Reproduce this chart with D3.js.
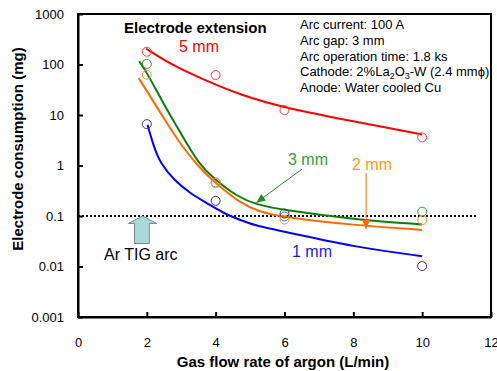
<!DOCTYPE html>
<html>
<head>
<meta charset="utf-8">
<script src="https://cdn.jsdelivr.net/npm/d3@7"></script>
<style>
  body { margin: 0; background: #fff; }
  svg { font-family: "Liberation Sans", Arial, sans-serif; }
</style>
</head>
<body>
<div id="chart-area"></div>
<script>
// measured points (gas flow, consumption mg)
var flowRates = [2, 4, 6, 10];
var mm5Points = [179, 62, 12.5, 3.6];
var mm3Points = [103, 0.46, 0.098, 0.122];
var mm2Points = [63, 0.45, 0.085, 0.083];
var mm1Points = [6.6, 0.2, 0.112, 0.0102];

// fitted curves
var mm5CurveX = [1.98, 2.78, 3.75, 4.72, 6, 8, 10];
var mm5CurveY = [205, 93, 47, 25, 13.8, 7.5, 4.1];
var mm3CurveX = [1.78, 2, 2.5, 3, 3.5, 3.94, 4.62, 5.2, 6, 8, 10];
var mm3CurveY = [116, 70, 16, 4.2, 1.1, 0.55, 0.242, 0.166, 0.13, 0.086, 0.068];
var mm2CurveX = [1.76, 2, 2.5, 3, 3.5, 3.97, 4.72, 5.25, 6, 8, 10];
var mm2CurveY = [54, 30, 8.5, 2.5, 0.95, 0.46, 0.179, 0.122, 0.094, 0.066, 0.053];
var mm1CurveX = [2.02, 2.2, 2.39, 2.78, 3.26, 3.75, 4.23, 4.72, 5.2, 6, 8, 10];
var mm1CurveY = [6.4, 2.38, 1.12, 0.52, 0.28, 0.179, 0.113, 0.083, 0.063, 0.049, 0.0245, 0.016];

var xTicks = [0, 2, 4, 6, 8, 10, 12];
var yTicks = [0.001, 0.01, 0.1, 1, 10, 100, 1000];
var yTickLabels = ["0.001", "0.01", "0.1", "1", "10", "100", "1000"];
var tigLevel = 0.1;

var W = 497, H = 371;
var margin = { left: 78, right: 6, top: 14, bottom: 54 };

var svg = d3.select("#chart-area")
    .append("svg")
    .attr("width", W)
    .attr("height", H);

var x = d3.scaleLinear().domain([0, 12]).range([margin.left, W - margin.right]);
var y = d3.scaleLog().domain([0.001, 1000]).range([H - margin.bottom, margin.top]);

// frame
svg.append("rect")
    .attr("x", x(0)).attr("y", y(1000))
    .attr("width", x(12) - x(0)).attr("height", y(0.001) - y(1000))
    .attr("fill", "none").attr("stroke", "#000").attr("stroke-width", 2);

var xAxis = svg.append("g")
    .attr("transform", "translate(0," + y(0.001) + ")")
    .call(d3.axisBottom(x).tickValues(xTicks).tickSize(-5).tickSizeOuter(0).tickPadding(21));
var yAxis = svg.append("g")
    .attr("transform", "translate(" + x(0) + ",0)")
    .call(d3.axisLeft(y).tickValues(yTicks).tickSize(-5).tickSizeOuter(0).tickPadding(14)
        .tickFormat((d, i) => yTickLabels[i]));

[xAxis, yAxis].forEach(g => {
    g.select(".domain").attr("stroke-width", 2);
    g.selectAll(".tick line").attr("stroke-width", 2);
    g.selectAll("text").attr("font-size", "13px").attr("font-family", "Liberation Sans, Arial, sans-serif").attr("fill", "#000");
});

// axis titles
svg.append("text")
    .attr("x", 283).attr("y", 367)
    .attr("text-anchor", "middle")
    .attr("font-size", "15px").attr("font-weight", "bold")
    .text("Gas flow rate of argon (L/min)");
svg.append("text")
    .attr("transform", "translate(23,149) rotate(-90)")
    .attr("text-anchor", "middle")
    .attr("font-size", "15px").attr("font-weight", "bold")
    .text("Electrode consumption (mg)");

// Ar TIG reference line
svg.append("line")
    .attr("x1", x(0)).attr("x2", x(11.6))
    .attr("y1", y(tigLevel)).attr("y2", y(tigLevel))
    .attr("stroke", "#000").attr("stroke-width", 2).attr("stroke-dasharray", "2,2");

var series = [
    { xs: mm5CurveX, ys: mm5CurveY, pts: mm5Points, line: "#ff0000", mark: "#ff3b3b" },
    { xs: mm3CurveX, ys: mm3CurveY, pts: mm3Points, line: "#0a7d0a", mark: "#2f9a2f" },
    { xs: mm2CurveX, ys: mm2CurveY, pts: mm2Points, line: "#ff6a00", mark: "#ff8a3a" },
    { xs: mm1CurveX, ys: mm1CurveY, pts: mm1Points, line: "#0000ff", mark: "#3333aa" }
];

var line = d3.line()
    .x(d => x(d[0]))
    .y(d => y(d[1]))
    .curve(d3.curveBasis);

series.forEach(s => {
    svg.append("path")
        .datum(s.xs.map((v, i) => [v, s.ys[i]]))
        .attr("d", line)
        .attr("fill", "none")
        .attr("stroke", s.line)
        .attr("stroke-width", 2);
});
series.forEach(s => {
    svg.selectAll(null)
        .data(flowRates.map((v, i) => [v, s.pts[i]]))
        .enter().append("circle")
        .attr("cx", d => x(d[0]))
        .attr("cy", d => y(d[1]))
        .attr("r", 4.5)
        .attr("fill", "none")
        .attr("stroke", s.mark)
        .attr("stroke-width", 1);
});

// labels
function label(txt, px, py, color, size, weight) {
    return svg.append("text").attr("x", px).attr("y", py)
        .attr("fill", color).attr("font-size", size).attr("font-weight", weight || "normal")
        .text(txt);
}
label("Electrode extension", 124, 33, "#000", "15px", "bold");
label("5 mm", 179, 52, "#ff0000", "16px");
label("3 mm", 288, 165, "#33a033", "16px");
label("2 mm", 352, 170, "#ff9a1a", "16px");
label("1 mm", 292, 257, "#2020e0", "16px");
label("Ar TIG arc", 104, 260, "#000", "16px");

// condition box
var cond = svg.append("text").attr("font-size", "13px").attr("fill", "#000");
cond.append("tspan").attr("x", 300).attr("y", 29).text("Arc current: 100 A");
cond.append("tspan").attr("x", 300).attr("y", 45).text("Arc gap: 3 mm");
cond.append("tspan").attr("x", 300).attr("y", 60.5).text("Arc operation time: 1.8 ks");
cond.append("tspan").attr("x", 300).attr("y", 76).text("Cathode: 2%La");
cond.append("tspan").attr("dy", 3).attr("font-size", "9px").text("2");
cond.append("tspan").attr("dy", -3).text("O");
cond.append("tspan").attr("dy", 3).attr("font-size", "9px").text("3");
cond.append("tspan").attr("dy", -3).text("-W (2.4 mm\u03d5)");
cond.append("tspan").attr("x", 300).attr("y", 91.5).text("Anode: Water cooled Cu");

// annotation arrows
function arrow(x1, y1, x2, y2, color, w) {
    var px1 = x(x1), py1 = y(y1), px2 = x(x2), py2 = y(y2);
    svg.append("line").attr("x1", px1).attr("y1", py1).attr("x2", px2).attr("y2", py2)
        .attr("stroke", color).attr("stroke-width", w);
    var a = Math.atan2(py2 - py1, px2 - px1), L = 9, hw = 4;
    var bx = px2 - L * Math.cos(a), by = py2 - L * Math.sin(a);
    svg.append("polygon")
        .attr("points", [
            [px2, py2],
            [bx + hw * Math.sin(a), by - hw * Math.cos(a)],
            [bx - hw * Math.sin(a), by + hw * Math.cos(a)]
        ].map(p => p.join(",")).join(" "))
        .attr("fill", color);
}
arrow(6.51, 0.85, 5.18, 0.184, "#1f8f1f", 1);
arrow(8.37, 0.71, 8.37, 0.055, "#ff6a00", 1);

// block arrow pointing at Ar TIG level
svg.append("polygon")
    .attr("points", "142.5,216 156.7,223.5 149.3,223.5 149.3,243.5 134.5,243.5 134.5,223.5 128.3,223.5")
    .attr("fill", "#a9d9d9").attr("stroke", "#7a8a8a").attr("stroke-width", 1);
</script>
</body>
</html>
